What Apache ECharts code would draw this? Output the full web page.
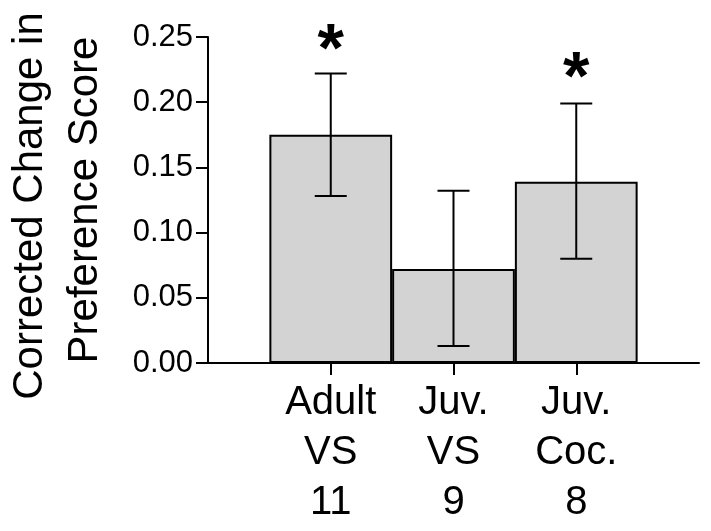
<!DOCTYPE html>
<html>
<head>
<meta charset="utf-8">
<script src="https://cdn.jsdelivr.net/npm/echarts@6/dist/echarts.min.js"></script>
<style>
html,body{margin:0;padding:0;background:#fff;}
#main{width:711px;height:531px;}
</style>
</head>
<body>
<div id="main"></div>
<script>
// Data
var categories = ['', 'Adult\nVS\n11', 'Juv.\nVS\n9', 'Juv.\nCoc.\n8', ''];
var means = ['-', 0.175, 0.072, 0.139, '-'];
var errUpper = [0.222, 0.132, 0.199];
var errLower = [0.128, 0.013, 0.080];
var errIndex = [1, 2, 3];
var starIndex = [1, 3];
var starValue = [0.250, 0.228];
var yTitle1 = 'Corrected Change in';
var yTitle2 = 'Preference Score';

var FONT = '"Liberation Sans", Arial, sans-serif';
var chart = echarts.init(document.getElementById('main'), null, {renderer: 'canvas'});

var errData = errIndex.map(function (c, i) { return [c, errUpper[i], errLower[i]]; });
var starData = starIndex.map(function (c, i) { return [c, starValue[i]]; });

var option = {
  backgroundColor: '#ffffff',
  animation: false,
  grid: {left: 208, right: 12, top: 37, bottom: 168, containLabel: false},
  xAxis: {
    type: 'category',
    data: categories,
    boundaryGap: false,
    axisLine: {show: true, lineStyle: {color: '#000', width: 2}},
    axisTick: {
      show: true, length: 12, lineStyle: {color: '#000', width: 2},
      interval: function (index, value) { return value !== ''; }
    },
    axisLabel: {
      show: true, interval: 0, color: '#000', fontSize: 40, fontFamily: FONT,
      lineHeight: 50, margin: 15
    },
    splitLine: {show: false}
  },
  yAxis: {
    type: 'value',
    min: 0, max: 0.25, interval: 0.05,
    axisLine: {show: true, lineStyle: {color: '#000', width: 2}},
    axisTick: {show: true, length: 12, lineStyle: {color: '#000', width: 2}},
    axisLabel: {
      color: '#000', fontSize: 31, fontFamily: FONT, margin: 15,
      formatter: function (v) { return v.toFixed(2); }
    },
    splitLine: {show: false}
  },
  graphic: [
    {type: 'text', x: 30, y: 206, rotation: Math.PI / 2,
      style: {text: yTitle1, fontSize: 42, fontFamily: FONT, fill: '#000', textAlign: 'center', textVerticalAlign: 'middle'}},
    {type: 'text', x: 85, y: 200, rotation: Math.PI / 2,
      style: {text: yTitle2, fontSize: 42, fontFamily: FONT, fill: '#000', textAlign: 'center', textVerticalAlign: 'middle'}}
  ],
  series: [
    {
      type: 'bar',
      data: means,
      barWidth: 122.75,
      itemStyle: {color: '#d3d3d3', borderColor: '#000', borderWidth: 2},
      z: 2
    },
    {
      type: 'custom',
      data: errData,
      encode: {x: 0, y: [1, 2]},
      z: 5,
      renderItem: function (params, api) {
        var hi = api.coord([api.value(0), api.value(1)]);
        var lo = api.coord([api.value(0), api.value(2)]);
        var hw = 16;
        var st = {stroke: '#000', lineWidth: 2};
        return {
          type: 'group',
          children: [
            {type: 'line', shape: {x1: hi[0], y1: hi[1], x2: lo[0], y2: lo[1]}, style: st},
            {type: 'line', shape: {x1: hi[0] - hw, y1: hi[1], x2: hi[0] + hw, y2: hi[1]}, style: st},
            {type: 'line', shape: {x1: lo[0] - hw, y1: lo[1], x2: lo[0] + hw, y2: lo[1]}, style: st}
          ]
        };
      }
    },
    {
      type: 'scatter',
      data: starData,
      symbolSize: 1,
      itemStyle: {color: 'rgba(0,0,0,0)', opacity: 1},
      label: {
        show: true, position: 'inside', formatter: '*', color: '#000',
        textBorderWidth: 0, textBorderColor: 'transparent', opacity: 1,
        fontSize: 68, fontWeight: 'bold', fontFamily: FONT, offset: [0, 15]
      },
      z: 6
    }
  ]
};
chart.setOption(option);
</script>
</body>
</html>
